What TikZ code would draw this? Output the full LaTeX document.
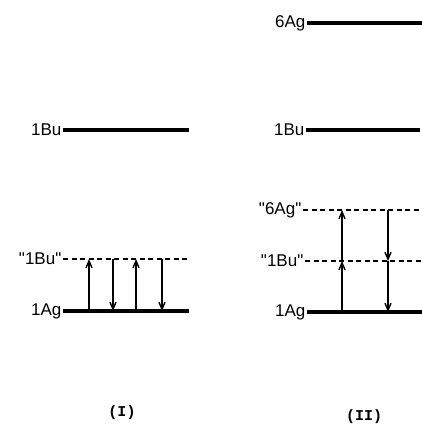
\documentclass[tikz,border=0pt]{standalone}
\usepackage{fontspec}
\setmainfont{Liberation Sans}[Ligatures=TeXOff]
\newfontfamily\casefont{Liberation Mono}
\usetikzlibrary{arrows.meta}

\begin{document}
\begin{tikzpicture}[x=1pt,y=-1pt,
  levelline/.style={line width=3.4pt},
  virtline/.style={line width=2.8pt,dash pattern=on 5pt off 3.5pt},
  trans/.style={line width=1.4pt,-{Straight Barb[length=7pt,width=6pt]}},
  lab/.style={anchor=east,inner sep=1.5pt,font=\fontsize{17}{19}\selectfont},
  casetext/.style={font=\casefont\bfseries\fontsize{15}{17}\selectfont}]
\useasboundingbox (0,0) rectangle (422,425);
% (I)
\coordinate (bua) at (63,130);
\coordinate (bub) at (189,130);
\coordinate (vbua) at (63,259);
\coordinate (vbub) at (189,259);
\coordinate (aga) at (63,311);
\coordinate (agb) at (189,311);
\draw[levelline] (bua) -- (bub);
\draw[virtline] (vbua) -- (vbub);
\draw[levelline] (aga) -- (agb);
\node[lab] (bul) at (bua) {1Bu};
\node[lab] (vbul) at (vbua) {"1Bu"};
\node[lab] (agl) at (aga) {1Ag};
\draw[trans] (89,311) -- (89,259);
\draw[trans] (113,259) -- (113,311);
\draw[trans] (136,311) -- (136,259);
\draw[trans] (162,259) -- (162,311);
\node[casetext] (capI) at (122,413) {(I)};
% (II)
\coordinate (agsixa) at (307,23);
\coordinate (agsixb) at (422,23);
\coordinate (butwoa) at (306,130);
\coordinate (butwob) at (420,130);
\coordinate (vagsixa) at (303,210);
\coordinate (vagsixb) at (422,210);
\coordinate (vbutwoa) at (305,261);
\coordinate (vbutwob) at (422,261);
\coordinate (agtwoa) at (307,312);
\coordinate (agtwob) at (422,312);
\draw[levelline] (agsixa) -- (agsixb);
\draw[levelline] (butwoa) -- (butwob);
\draw[virtline] (vagsixa) -- (vagsixb);
\draw[virtline] (vbutwoa) -- (vbutwob);
\draw[levelline] (agtwoa) -- (agtwob);
\node[lab] (agsixl) at (agsixa) {6Ag};
\node[lab] (butwol) at (butwoa) {1Bu};
\node[lab] (vagsixl) at (vagsixa) {"6Ag"};
\node[lab] (vbutwol) at (vbutwoa) {"1Bu"};
\node[lab] (agtwol) at (agtwoa) {1Ag};
\draw[trans] (342,312) -- (342,261);
\draw[trans] (342,261) -- (342,210);
\draw[trans] (388,210) -- (388,261);
\draw[trans] (388,261) -- (388,312);
\node[casetext] (capII) at (364,417) {(II)};
\end{tikzpicture}
\end{document}
